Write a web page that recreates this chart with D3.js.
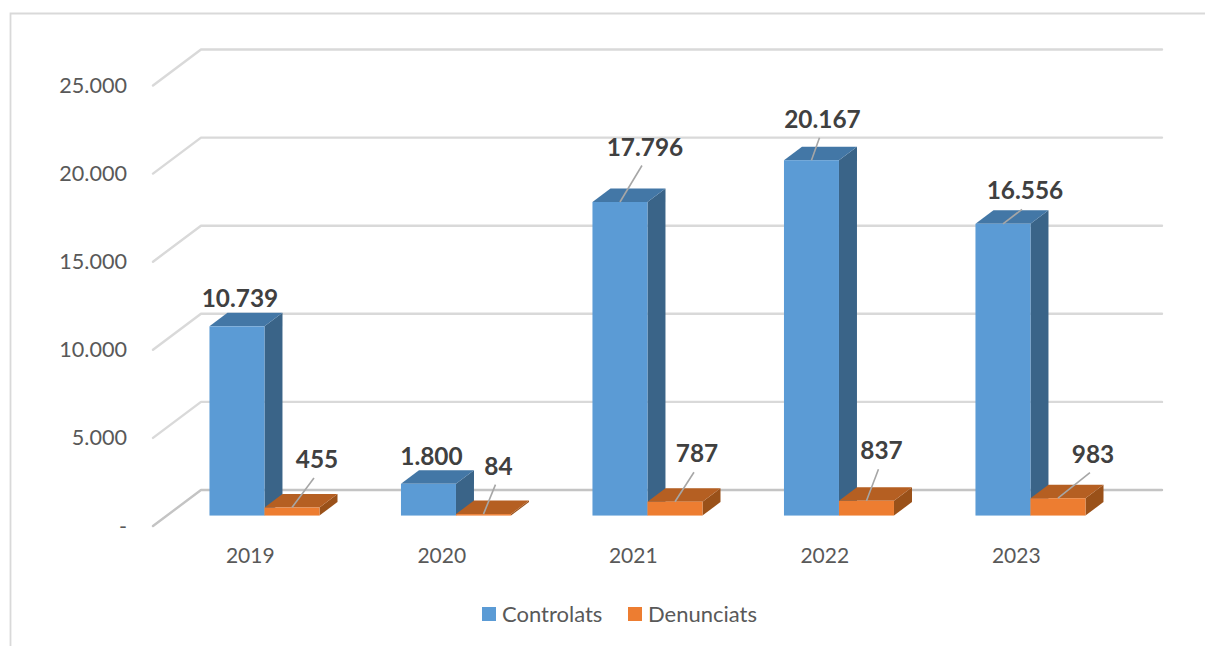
<!DOCTYPE html>
<html><head><meta charset="utf-8">
<script src="https://cdn.jsdelivr.net/npm/d3@7"></script>
<style>html,body{margin:0;padding:0;background:#fff;overflow:hidden}svg{display:block}text{font-family:Lato,"Noto Sans",sans-serif}</style>
</head><body><svg id="c" width="1205" height="646"></svg>
<script>
const years = ["2019","2020","2021","2022","2023"];
const controlats = [10739,1800,17796,20167,16556];
const denunciats = [455,84,787,837,983];
const seriesNames = ["Controlats","Denunciats"];
const yTicks = [0,5000,10000,15000,20000,25000];
const yTickLabels = ["-","5.000","10.000","15.000","20.000","25.000"];

// layout: label offsets from each bar's top-front centre, [dx, dy, showLeader]
const labelOffsetsA = [[3,-28,0],[3,-27,0],[25,-55,1],[11,-41,1],[22,-33,1]];
const labelOffsetsB = [[25,-48,1],[15,-48,1],[22,-48,1],[15,-50,1],[35,-44,1]];

const svg = d3.select("#c");
const W=1205,H=646;
const x0 = d3.scaleBand().domain(years).range([153,1110.5]);
const wallLeft=153, wallRight=1114;
const y = d3.scaleLinear().domain([0,25000]).range([526,85.5]);
const depth = {x:48,y:-36};
const zFront=0.29, zBack=0.665;
const px=(x,z)=>x+depth.x*z, py=(v,z)=>y(v)+depth.y*z;
const barW=55;
const barShift=1.8;

// frame
svg.append("path").attr("d",`M10.5,${H}V13.5H${W}`).attr("fill","none").attr("stroke","#d9d9d9").attr("stroke-width",1.8);

// walls
const g=svg.append("g");
const gridC="#d9d9d9";
yTicks.forEach(t=>{
  g.append("path")
   .attr("d",`M${px(wallLeft,0)},${py(t,0)}L${px(wallLeft,1)},${py(t,1)}H${px(wallRight,1)}`)
   .attr("fill","none").attr("stroke",t===0?"#c4c4c4":gridC).attr("stroke-width",2.4).attr("stroke-linejoin","round").attr("stroke-linecap","round");
});

// axis labels
svg.append("g").selectAll("text").data(yTicks).join("text")
  .attr("x",127).attr("y",d=>y(d)).attr("dy","0.35em").attr("text-anchor","end")
  .attr("font-size",21.6).attr("fill","#595959").text((d,i)=>yTickLabels[i]);
svg.append("g").selectAll("text").data(years).join("text")
  .attr("x",d=>x0(d)+x0.bandwidth()/2+1.5).attr("y",556).attr("dy","0.35em").attr("text-anchor","middle")
  .attr("font-size",21).attr("fill","#595959").text(d=>d);

// bars
const styles=[{front:"#5b9bd5",top:"#4377a6",side:"#3a6488"},{front:"#ed7d31",top:"#b55f22",side:"#9a5119"}];
const series=[controlats,denunciats];
const bars=svg.append("g");
function drawBar(cat,v,si){
  const s=styles[si];
  const xl=x0(cat)+x0.bandwidth()/2 + (si===0?-barW:0) + barShift;
  const xr=xl+barW;
  const X=(x,z)=>px(x,z), Y=(val,z)=>py(val,z);
  bars.append("path").attr("fill",s.side)
    .attr("d",`M${X(xr,zFront)},${Y(0,zFront)}L${X(xr,zBack)},${Y(0,zBack)}L${X(xr,zBack)},${Y(v,zBack)}L${X(xr,zFront)},${Y(v,zFront)}Z`);
  bars.append("path").attr("fill",s.top)
    .attr("d",`M${X(xl,zFront)},${Y(v,zFront)}L${X(xl,zBack)},${Y(v,zBack)}L${X(xr,zBack)},${Y(v,zBack)}L${X(xr,zFront)},${Y(v,zFront)}Z`);
  bars.append("rect").attr("fill",s.front)
    .attr("x",X(xl,zFront)).attr("y",Y(v,zFront)).attr("width",barW).attr("height",Y(0,zFront)-Y(v,zFront));
}
years.forEach((c,i)=>{drawBar(c,controlats[i],0);drawBar(c,denunciats[i],1);});

// labels + leaders
const fmt=d3.formatLocale({decimal:",",thousands:".",grouping:[3],currency:["",""]}).format(",d");
const labels=svg.append("g");
series.forEach((vals,si)=>{
  const offs=si===0?labelOffsetsA:labelOffsetsB;
  vals.forEach((v,i)=>{
    const xl=x0(years[i])+x0.bandwidth()/2+(si===0?-barW:0)+barShift;
    const cx=px(xl,zFront)+barW/2, cy=py(v,zFront);
    const [dx,dy,lead]=offs[i];
    if(lead) labels.append("line").attr("x1",cx).attr("y1",cy).attr("x2",cx+dx-3).attr("y2",cy+dy+18.5)
      .attr("stroke","#a6a6a6").attr("stroke-width",1.6);
    labels.append("text").attr("x",cx+dx).attr("y",cy+dy).attr("dy","0.35em").attr("text-anchor","middle")
      .attr("font-size",24.4).attr("font-weight",700).attr("fill","#404040").text(fmt(v));
  });
});

// legend
const lg=svg.append("g");
const legendX=[482,628];
seriesNames.forEach((n,i)=>{
  lg.append("rect").attr("x",legendX[i]).attr("y",607).attr("width",14).attr("height",14).attr("fill",styles[i].front);
  lg.append("text").attr("x",legendX[i]+20).attr("y",614).attr("dy","0.35em").attr("font-size",22).attr("fill","#595959").text(n);
});
</script></body></html>
